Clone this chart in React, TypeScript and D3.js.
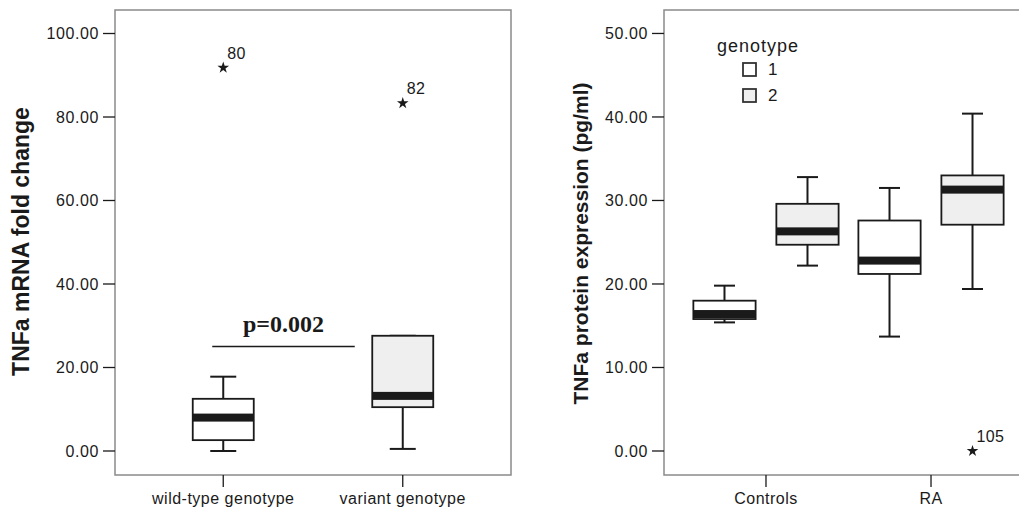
import React from 'react';
import * as d3 from 'd3';

// ---- Left panel data: TNFa mRNA fold change ----
const mrnaCategories = ['wild-type genotype', 'variant genotype'];
const mrnaMin = [0.0, 0.5];
const mrnaQ1 = [2.6, 10.5];
const mrnaMedian = [8.0, 13.2];
const mrnaQ3 = [12.5, 27.6];
const mrnaMax = [17.8, 27.6];
const mrnaFill = ['#ffffff', '#efefef'];
const mrnaOutlierCat = ['wild-type genotype', 'variant genotype'];
const mrnaOutlierValue = [91.8, 83.3];
const mrnaOutlierLabel = ['80', '82'];
const mrnaTicks = [0, 20, 40, 60, 80, 100];
const pValueText = 'p=0.002';
const pValueLevel = 25;

// ---- Right panel data: TNFa protein expression ----
const proteinGroups = ['Controls', 'RA'];
const genotypes = ['1', '2'];
const proteinGroup = ['Controls', 'Controls', 'RA', 'RA'];
const proteinGenotype = ['1', '2', '1', '2'];
const proteinMin = [15.4, 22.2, 13.7, 19.4];
const proteinQ1 = [15.8, 24.7, 21.2, 27.1];
const proteinMedian = [16.4, 26.3, 22.8, 31.3];
const proteinQ3 = [18.0, 29.6, 27.6, 33.0];
const proteinMax = [19.8, 32.8, 31.5, 40.4];
const genotypeFill = ['#ffffff', '#efefef'];
const proteinOutlierGroup = ['RA'];
const proteinOutlierGenotype = ['2'];
const proteinOutlierValue = [0.0];
const proteinOutlierLabel = ['105'];
const proteinTicks = [0, 10, 20, 30, 40, 50];

const FONT = "Arial, 'Liberation Sans', Helvetica, sans-serif";
const frameColor = '#8a8a8a';
const ink = '#1a1a1a';

function Box({ cx, w, capW, min, q1, med, q3, max, y, fill }: any) {
  const bandH = 8;
  return (
    <g>
      <line x1={cx} x2={cx} y1={y(max)} y2={y(q3)} stroke={ink} strokeWidth={2} />
      <line x1={cx} x2={cx} y1={y(q1)} y2={y(min)} stroke={ink} strokeWidth={2} />
      <line x1={cx - capW / 2} x2={cx + capW / 2} y1={y(max)} y2={y(max)} stroke={ink} strokeWidth={2} />
      <line x1={cx - capW / 2} x2={cx + capW / 2} y1={y(min)} y2={y(min)} stroke={ink} strokeWidth={2} />
      <rect x={cx - w / 2} y={y(q3)} width={w} height={Math.max(0, y(q1) - y(q3))} fill={fill} stroke={ink} strokeWidth={1.8} />
      <rect
        x={cx - w / 2}
        y={Math.max(y(q3), y(med) - bandH / 2)}
        width={w}
        height={Math.min(y(q1), y(med) + bandH / 2) - Math.max(y(q3), y(med) - bandH / 2)}
        fill={ink}
      />
    </g>
  );
}

function Star({ x, y, label }: any) {
  const p = d3.symbol().type(d3.symbolStar).size(42)();
  return (
    <g>
      <path d={p as string} transform={`translate(${x},${y})`} fill={ink} />
      <text x={x + 4} y={y - 9} fontFamily={FONT} fontSize={16} fill={ink} letterSpacing={0.3}>{label}</text>
    </g>
  );
}

export default function App() {
  const W = 1019, H = 512;
  const top = 10, bottom = 475;

  // left panel scales
  const yL = d3.scaleLinear().domain([-5.75, 105.63]).range([bottom, top]);
  const xL = d3.scalePoint<string>().domain(mrnaCategories).range([115, 511]).padding(0.603);
  const leftX0 = 115, leftX1 = 511;

  // right panel scales
  const yR = d3.scaleLinear().domain([-2.875, 52.81]).range([bottom, top]);
  const xR = d3.scalePoint<string>().domain(proteinGroups).range([664, 1033]).padding(0.618);
  const xSub = d3.scaleBand<string>().domain(genotypes).range([-83, 83]);
  const rightX0 = 664, rightX1 = 1033;

  const leftBoxW = 61, leftCapW = 26;
  const rightBoxW = xSub.bandwidth() * 0.75, rightCapW = 21;

  const pLineX1 = (xL(mrnaCategories[0]) as number) - 11;
  const pLineX2 = (xL(mrnaCategories[1]) as number) - 48;

  return (
    <svg width={W} height={H} style={{ position: 'absolute', left: 0, top: 0, background: '#fff' }}>
      <rect x={0} y={0} width={W} height={H} fill="#fff" />

      {/* ===== Left panel ===== */}
      <rect x={leftX0} y={top} width={leftX1 - leftX0} height={bottom - top} fill="none" stroke={frameColor} strokeWidth={1.5} />
      {mrnaTicks.map((t) => (
        <g key={'lt' + t}>
          <line x1={leftX0 - 12} x2={leftX0} y1={yL(t)} y2={yL(t)} stroke={ink} strokeWidth={1.3} />
          <text x={leftX0 - 16} y={yL(t)} dy="0.36em" textAnchor="end" fontFamily={FONT} fontSize={16} letterSpacing={0.6} fill={ink}>
            {t.toFixed(2)}
          </text>
        </g>
      ))}
      {mrnaCategories.map((c) => (
        <g key={'lx' + c}>
          <line x1={xL(c)} x2={xL(c)} y1={bottom} y2={bottom + 12} stroke={ink} strokeWidth={1.3} />
          <text x={xL(c)} y={504} textAnchor="middle" fontFamily={FONT} fontSize={16} letterSpacing={0.5} fill={ink}>{c}</text>
        </g>
      ))}
      <text
        transform={`translate(29,241.5) rotate(-90)`}
        textAnchor="middle" fontFamily={FONT} fontSize={23} fontWeight="bold" fill={ink}
      >TNFa mRNA fold change</text>

      {mrnaCategories.map((c, i) => (
        <Box key={'lb' + c} cx={xL(c)} w={leftBoxW} capW={leftCapW}
          min={mrnaMin[i]} q1={mrnaQ1[i]} med={mrnaMedian[i]} q3={mrnaQ3[i]} max={mrnaMax[i]}
          y={yL} fill={mrnaFill[i]} />
      ))}
      {mrnaOutlierValue.map((v, i) => (
        <Star key={'lo' + i} x={xL(mrnaOutlierCat[i]) as number} y={yL(v)} label={mrnaOutlierLabel[i]} />
      ))}
      <line x1={pLineX1} x2={pLineX2} y1={yL(pValueLevel)} y2={yL(pValueLevel)} stroke={ink} strokeWidth={1.5} />
      <text x={(pLineX1 + pLineX2) / 2} y={yL(pValueLevel) - 15} textAnchor="middle"
        fontFamily="'Liberation Serif', 'Times New Roman', serif" fontWeight="bold" fontSize={24} fill={ink}>{pValueText}</text>

      {/* ===== Right panel ===== */}
      <rect x={rightX0} y={top} width={rightX1 - rightX0} height={bottom - top} fill="none" stroke={frameColor} strokeWidth={1.5} />
      {proteinTicks.map((t) => (
        <g key={'rt' + t}>
          <line x1={rightX0 - 12} x2={rightX0} y1={yR(t)} y2={yR(t)} stroke={ink} strokeWidth={1.3} />
          <text x={rightX0 - 16} y={yR(t)} dy="0.36em" textAnchor="end" fontFamily={FONT} fontSize={16} letterSpacing={0.6} fill={ink}>
            {t.toFixed(2)}
          </text>
        </g>
      ))}
      {proteinGroups.map((g) => (
        <g key={'rx' + g}>
          <line x1={xR(g)} x2={xR(g)} y1={bottom} y2={bottom + 12} stroke={ink} strokeWidth={1.3} />
          <text x={xR(g)} y={504} textAnchor="middle" fontFamily={FONT} fontSize={16} letterSpacing={0.5} fill={ink}>{g}</text>
        </g>
      ))}
      <text
        transform={`translate(588,243.5) rotate(-90)`}
        textAnchor="middle" fontFamily={FONT} fontSize={21} fontWeight="bold" fill={ink}
      >TNFa protein expression (pg/ml)</text>

      {proteinGroup.map((g, i) => {
        const cx = (xR(g) as number) + (xSub(proteinGenotype[i]) as number) + xSub.bandwidth() / 2;
        return (
          <Box key={'rb' + i} cx={cx} w={rightBoxW} capW={rightCapW}
            min={proteinMin[i]} q1={proteinQ1[i]} med={proteinMedian[i]} q3={proteinQ3[i]} max={proteinMax[i]}
            y={yR} fill={genotypeFill[genotypes.indexOf(proteinGenotype[i])]} />
        );
      })}
      {proteinOutlierValue.map((v, i) => {
        const cx = (xR(proteinOutlierGroup[i]) as number) + (xSub(proteinOutlierGenotype[i]) as number) + xSub.bandwidth() / 2;
        return <Star key={'ro' + i} x={cx} y={yR(v)} label={proteinOutlierLabel[i]} />;
      })}

      {/* legend */}
      <text x={717} y={52} fontFamily={FONT} fontSize={18} letterSpacing={1} fill={ink}>genotype</text>
      {genotypes.map((g, i) => (
        <g key={'lg' + g} transform={`translate(743,${63 + i * 26})`}>
          <rect x={0} y={0} width={13} height={13} fill={genotypeFill[i]} stroke="#333" strokeWidth={1.8} />
          <text x={25} y={12} fontFamily={FONT} fontSize={17} fill={ink}>{g}</text>
        </g>
      ))}
    </svg>
  );
}
